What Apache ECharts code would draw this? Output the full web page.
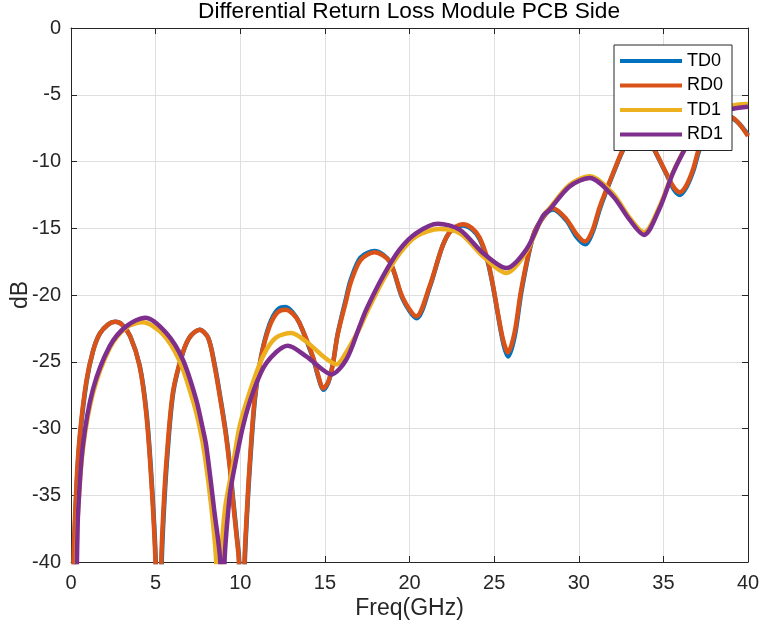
<!DOCTYPE html>
<html>
<head>
<meta charset="utf-8">
<script src="https://cdn.jsdelivr.net/npm/echarts@6.0.0/dist/echarts.min.js"></script>
<style>
html, body { margin: 0; padding: 0; background: #fff; }
#chart_rl { width: 762px; height: 630px; }
</style>
</head>
<body>
<div id="chart_rl"></div>
<script>
// 读图得到的数据 [频率GHz, dB]
var seriesNames = ['TD0', 'RD0', 'TD1', 'RD1'];
var seriesColors = ['#0072BD', '#D95319', '#EDB120', '#7E2F8E'];
var xTicks = [0, 5, 10, 15, 20, 25, 30, 35, 40];
var yTicks = [0, -5, -10, -15, -20, -25, -30, -35, -40];

var rd0 = [
	[0.05,-50],[0.15,-40],[0.33,-34],[0.52,-30.5],[0.9,-26.5],[1.3,-24.2],[1.7,-22.9],[2.2,-22.2],[2.6,-22.0],[3.0,-22.2],
	[3.5,-23.1],[4.05,-25.3],[4.44,-28.8],[4.74,-33.8],[4.99,-40],[5.16,-50],[5.33,-40],[5.45,-36.4],[5.63,-32.6],[6.02,-27.3],
	[6.61,-24.3],[7.05,-23.1],[7.6,-22.6],[8.1,-23.2],[8.48,-25.3],[8.82,-27.8],[9.13,-30.3],[9.37,-32.8],[9.56,-35.3],[9.76,-37.8],
	[9.92,-40],[10.08,-50],[10.25,-40],[10.4,-36],[10.55,-32.8],[10.85,-27.8],[11.24,-24.6],[11.73,-22.35],[12.2,-21.3],[12.68,-21.1],
	[13.1,-21.4],[13.5,-22.1],[14.29,-24.6],[14.6,-26.0],[14.9,-27.0],[15.2,-26.5],[15.47,-25.2],[15.75,-23.0],[16.26,-20.4],[16.52,-19.1],
	[17.1,-17.4],[17.94,-16.8],[18.83,-17.5],[19.6,-20.2],[20.4,-21.6],[21.2,-19.3],[21.96,-16.3],[22.5,-15.1],[23.15,-14.7],[23.7,-15.0],
	[24.14,-15.7],[24.6,-17.3],[24.92,-19.2],[25.5,-23.2],[25.82,-24.3],[26.21,-22.8],[26.6,-19.6],[27.29,-15.6],[27.88,-14.2],[28.47,-13.5],
	[29.26,-14.3],[29.9,-15.5],[30.37,-16.0],[30.8,-15.2],[31.24,-13.4],[32.02,-10.9],[32.65,-9.0],[33.2,-8.0],[33.6,-7.8],[34.0,-8.1],
	[34.39,-8.9],[35.18,-10.9],[35.6,-11.9],[35.96,-12.3],[36.35,-11.8],[36.75,-10.6],[37.14,-8.9],[37.74,-7.4],[38.5,-6.6],[39.07,-6.7],
	[39.5,-7.2],[40,-8.1]
];
var td0 = [
	[0.07,-50],[0.17,-40],[0.35,-34],[0.54,-30.5],[0.92,-26.5],[1.3,-24.2],[1.7,-22.9],[2.2,-22.2],[2.6,-22.0],[3.0,-22.2],
	[3.5,-23.1],[4.06,-25.3],[4.46,-28.8],[4.76,-33.8],[5.01,-40],[5.18,-50],[5.36,-40],[5.48,-36.4],[5.66,-32.6],[6.04,-27.3],
	[6.62,-24.3],[7.05,-23.1],[7.6,-22.6],[8.1,-23.2],[8.5,-25.3],[8.84,-27.8],[9.15,-30.3],[9.39,-32.8],[9.58,-35.3],[9.78,-37.8],
	[9.94,-40],[10.1,-50],[10.27,-40],[10.42,-36],[10.57,-32.8],[10.87,-27.8],[11.25,-24.5],[11.73,-22.2],[12.2,-21.1],[12.68,-20.9],
	[13.1,-21.3],[13.5,-22.1],[14.29,-24.7],[14.6,-26.1],[14.92,-27.1],[15.22,-26.5],[15.48,-25.1],[15.76,-22.9],[16.26,-20.2],[16.52,-18.9],
	[17.1,-17.2],[17.94,-16.7],[18.83,-17.5],[19.6,-20.3],[20.42,-21.75],[21.2,-19.4],[21.96,-16.3],[22.5,-15.1],[23.15,-14.8],[23.7,-15.1],
	[24.14,-15.8],[24.6,-17.4],[24.94,-19.4],[25.52,-23.5],[25.84,-24.6],[26.23,-23.0],[26.62,-19.7],[27.3,-15.6],[27.88,-14.2],[28.47,-13.6],
	[29.26,-14.4],[29.9,-15.7],[30.4,-16.2],[30.82,-15.3],[31.26,-13.5],[32.04,-10.9],[32.67,-9.0],[33.2,-8.0],[33.6,-7.8],[34.0,-8.1],
	[34.41,-9.0],[35.2,-11.0],[35.62,-12.1],[35.98,-12.5],[36.37,-11.9],[36.77,-10.7],[37.16,-9.0],[37.76,-7.4],[38.5,-6.6],[39.07,-6.75],
	[39.5,-7.2],[40,-8.0]
];
var rd1 = [
	[0.22,-50],[0.35,-40],[0.42,-36.3],[0.7,-31.3],[1.29,-27.1],[2.28,-23.85],[3.26,-22.35],[4.4,-21.7],[5.63,-22.85],[6.61,-24.85],
	[7.4,-27.85],[7.75,-29.8],[7.99,-31.3],[8.48,-36.3],[8.82,-40],[8.95,-50],[9.07,-40],[9.37,-35.1],[9.56,-33.6],[10.16,-29.85],
	[10.75,-27.3],[11.54,-25.1],[12.81,-23.8],[13.9,-24.6],[14.88,-25.6],[15.38,-25.95],[16.26,-24.85],[17.05,-22.35],[17.44,-21.1],[18.43,-18.6],
	[19.41,-16.6],[20.4,-15.36],[21.68,-14.66],[22.96,-15.1],[24.34,-16.85],[25.72,-17.98],[26.9,-16.6],[27.88,-14.1],[28.28,-13.6],[29.46,-11.87],
	[30.64,-11.24],[32.02,-12.6],[33.0,-14.36],[33.85,-15.5],[34.78,-13.5],[35.57,-10.86],[36.36,-8.87],[37.2,-7.1],[38.2,-6.3],[39.11,-6.05],
	[40,-5.9]
];
var td1 = [
	[0.2,-50],[0.33,-40],[0.4,-36.6],[0.7,-31.6],[1.29,-27.4],[2.28,-24.0],[3.26,-22.45],[4.24,-22.05],[5.4,-22.9],[6.4,-24.9],
	[7.2,-27.9],[7.59,-29.85],[7.9,-32.0],[8.3,-36.0],[8.58,-40],[8.73,-50],[8.88,-40],[9.1,-36.0],[9.56,-32.8],[9.96,-29.85],
	[10.55,-27.3],[11.34,-24.6],[12.1,-23.2],[13.01,-22.85],[14.0,-23.6],[15.0,-24.7],[15.67,-25.2],[16.26,-24.3],[17.05,-22.5],[17.44,-21.4],
	[18.43,-18.9],[19.41,-16.9],[20.4,-15.6],[21.78,-15.06],[23.0,-15.4],[24.34,-17.1],[25.72,-18.35],[26.9,-16.75],[27.88,-14.1],[28.28,-13.5],
	[29.46,-11.75],[30.64,-11.1],[32.02,-12.4],[33.0,-14.2],[33.85,-15.3],[34.78,-13.35],[35.57,-10.8],[36.36,-8.8],[37.2,-7.0],[38.2,-6.1],
	[39.11,-5.8],[40,-5.7]
];
var seriesData = [td0, rd0, td1, rd1];

var fontFamily = '"Liberation Sans", Arial, sans-serif';
var axisColor = '#262626';
var gridColor = '#dfdfdf';

var myChart = echarts.init(document.getElementById('chart_rl'));

var series = seriesNames.map(function(name, i) {
	return {
		name: name,
		type: 'line',
		data: seriesData[i],
		symbol: 'none',
		showSymbol: false,
		smooth: 0.3,
		clip: true,
		lineStyle: { width: 4.5, color: seriesColors[i] },
		itemStyle: { color: seriesColors[i] },
		z: 2
	};
});

var option = {
	animation: false,
	backgroundColor: '#fff',
	title: {
		text: 'Differential Return Loss Module PCB Side',
		left: 198,
		top: 0,
		padding: 0,
		textStyle: { fontFamily: fontFamily, fontSize: 22.7, fontWeight: 'normal', color: '#000' }
	},
	legend: {
		data: seriesNames,
		left: 614,
		top: 45,
		orient: 'vertical',
		icon: 'rect',
		itemWidth: 62,
		itemHeight: 4,
		itemGap: 6.5,
		padding: [7, 9, 7, 6],
		backgroundColor: '#fff',
		borderColor: axisColor,
		borderWidth: 1,
		borderRadius: 0,
		z: 20,
		textStyle: { fontFamily: fontFamily, fontSize: 18, color: '#000' }
	},
	grid: { left: 71, right: 14, top: 28, bottom: 68, containLabel: false, outerBoundsMode: 'none' },
	xAxis: [{
		type: 'value',
		min: 0, max: 40, interval: 5,
		name: 'Freq(GHz)',
		nameLocation: 'middle',
		nameGap: 35,
		nameMoveOverlap: false,
		nameTextStyle: { fontFamily: fontFamily, fontSize: 23, color: axisColor },
		axisLine: { onZero: false, lineStyle: { color: axisColor, width: 1 } },
		axisTick: { inside: true, length: 6, lineStyle: { color: axisColor } },
		axisLabel: { margin: 11, fontFamily: fontFamily, fontSize: 20, color: axisColor },
		splitLine: { show: true, lineStyle: { color: gridColor, width: 1 } }
	}, {
		type: 'value',
		position: 'top',
		min: 0, max: 40, interval: 5,
		axisLine: { onZero: false, lineStyle: { color: axisColor, width: 1 } },
		axisTick: { inside: true, length: 6, lineStyle: { color: axisColor } },
		axisLabel: { show: false },
		splitLine: { show: false }
	}],
	yAxis: [{
		type: 'value',
		min: -40, max: 0, interval: 5,
		name: 'dB',
		nameLocation: 'middle',
		nameRotate: 90,
		nameGap: 39,
		nameMoveOverlap: false,
		nameTextStyle: { fontFamily: fontFamily, fontSize: 23, color: axisColor },
		axisLine: { show: true, onZero: false, lineStyle: { color: axisColor, width: 1 } },
		axisTick: { show: true, inside: true, length: 6, lineStyle: { color: axisColor } },
		axisLabel: { margin: 10, fontFamily: fontFamily, fontSize: 20, color: axisColor },
		splitLine: { show: true, lineStyle: { color: gridColor, width: 1 } }
	}, {
		type: 'value',
		position: 'right',
		min: -40, max: 0, interval: 5,
		axisLine: { show: true, onZero: false, lineStyle: { color: axisColor, width: 1 } },
		axisTick: { show: true, inside: true, length: 6, lineStyle: { color: axisColor } },
		axisLabel: { show: false },
		splitLine: { show: false }
	}],
	series: series
};
myChart.setOption(option);
</script>
</body>
</html>
